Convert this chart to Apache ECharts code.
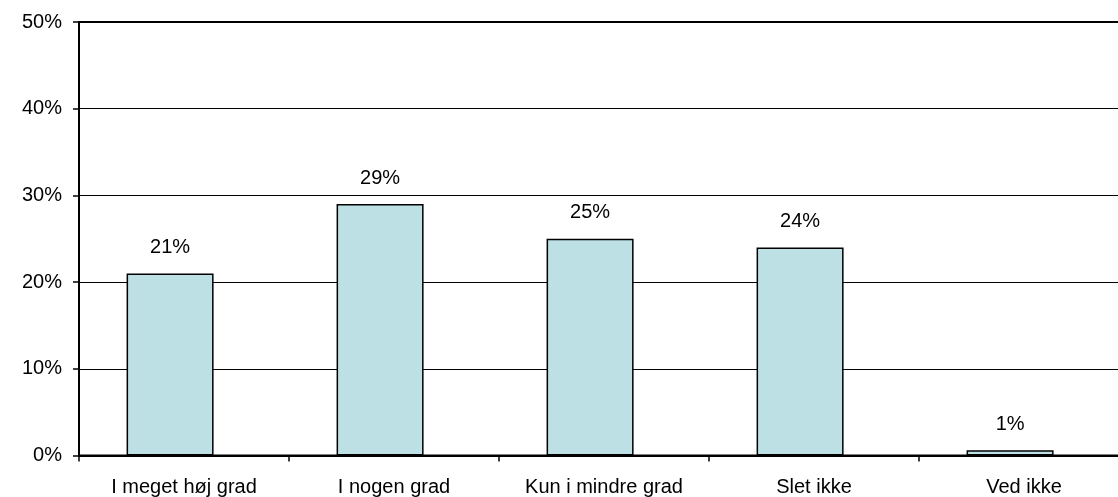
<!DOCTYPE html>
<html>
<head>
<meta charset="utf-8">
<script src="https://cdn.jsdelivr.net/npm/echarts@6/dist/echarts.min.js"></script>
<style>
html,body{margin:0;padding:0;background:#fff;}
#chart{width:1118px;height:497px;}
</style>
</head>
<body>
<div id="chart"></div>
<script>
const categories = ['I meget høj grad', 'I nogen grad', 'Kun i mindre grad', 'Slet ikke', 'Ved ikke'];
const values = [21, 29, 25, 24, 0.6];
const spacer = [0, 0, 0, 0, 0];
const yTicks = [0, 10, 20, 30, 40, 50];

const FONT = 'Liberation Sans, Arial, sans-serif';
const chart = echarts.init(document.getElementById('chart'), null, {renderer: 'canvas'});
chart.setOption({
  animation: false,
  backgroundColor: '#fff',
  grid: {left: 79, top: 22, bottom: 41.5, right: -11, show: true, borderColor: '#000', borderWidth: 2,
         containLabel: false, outerBoundsMode: 'none'},
  xAxis: {
    type: 'category',
    data: categories,
    boundaryGap: true,
    axisLine: {lineStyle: {color: '#000', width: 2}},
    axisTick: {show: true, length: 6, lineStyle: {color: '#000', width: 1.5}},
    axisLabel: {color: '#000', fontFamily: FONT, fontSize: 20, margin: 22, interval: 0}
  },
  yAxis: {
    type: 'value',
    min: yTicks[0],
    max: yTicks[yTicks.length - 1],
    interval: yTicks[1] - yTicks[0],
    axisLine: {show: true, lineStyle: {color: '#000', width: 2}},
    axisTick: {show: true, length: 6, lineStyle: {color: '#000', width: 1.5}},
    axisLabel: {color: '#000', fontFamily: FONT, fontSize: 20, margin: 17, formatter: '{value}%'},
    splitLine: {show: true, lineStyle: {color: '#000', width: 1}}
  },
  series: [
    {
      type: 'bar',
      data: values,
      barWidth: 87,
      barGap: '-68%',
      itemStyle: {color: '#BCE0E3', borderColor: '#000', borderWidth: 1.5},
      label: {
        show: true, position: 'top', distance: 16, color: '#000',
        fontFamily: FONT, fontSize: 20,
        formatter: p => Math.round(p.value) + '%'
      },
      z: 3
    },
    {
      type: 'bar',
      data: spacer,
      barWidth: 87,
      barGap: '-68%',
      silent: true,
      itemStyle: {color: 'rgba(0,0,0,0)', borderWidth: 0},
      label: {show: false}
    }
  ]
});
</script>
</body>
</html>
